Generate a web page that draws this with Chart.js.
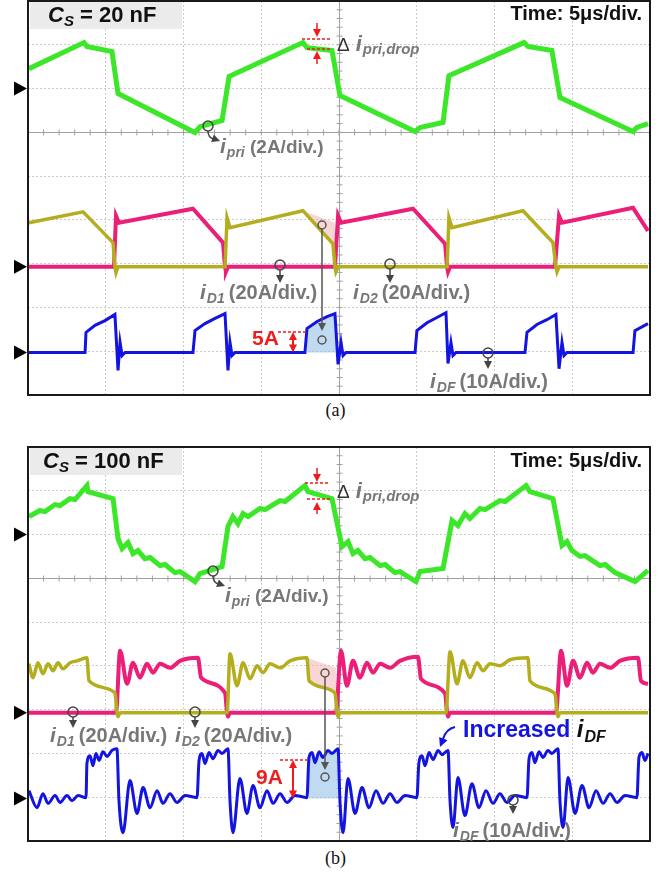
<!DOCTYPE html>
<html>
<head>
<meta charset="utf-8">
<script src="https://cdn.jsdelivr.net/npm/chart.js@4.4.0/dist/chart.umd.min.js"></script>
<style>
  body { margin: 0; background: #fff; width: 671px; height: 877px; position: relative; overflow: hidden; }
  canvas { position: absolute; left: 0; }
  .cap { position: absolute; left: 0; width: 671px; text-align: center; font-family: "Liberation Serif", "Times New Roman", serif; font-size: 18px; color: #111; }
</style>
</head>
<body>
<canvas id="scopeA" width="671" height="400" style="top:0"></canvas>
<div class="cap" style="top:400px">(a)</div>
<canvas id="scopeB" width="671" height="400" style="top:446px"></canvas>
<div class="cap" style="top:848px">(b)</div>
<script>
// scope screen: 8 horizontal div (5 us/div), 9 vertical div visible
const timeTicks = [0, 5, 10, 15, 20, 25, 30, 35, 40]
const vertDivs = [0, 1, 2, 3, 4, 5, 6, 7, 8, 9]

// probe scales (A/div) and channel zero levels (div from screen bottom)
const chScale = { pri: 2, d: 20, df: 10 }
const chZero = { pri: 7.0, d: 2.93, df: 0.97 }

// ---- (a) Cs = 20 nF : [time us, current A] ----
const priA = [[0.06,0.91],[3.60,2.10],[3.79,1.92],[5.40,1.69],[5.79,-0.23],[10.74,-2.01],[11.06,-1.74],[12.48,-1.46],[12.93,0.55],[17.68,2.10],[17.94,1.87],[19.55,1.74],[20.06,-0.32],[24.89,-1.96],[25.21,-1.78],[26.69,-1.55],[27.07,0.59],[31.90,2.10],[32.15,1.92],[33.69,1.74],[34.21,-0.41],[38.90,-1.96],[39.16,-1.78],[39.87,-1.60]]
const d1A = [[0.06,20.1],[3.54,25.1],[5.47,11.0],[5.59,0],[5.66,-2.7],[5.79,0],[12.67,0],[12.80,22.4],[12.99,17.8],[17.68,25.6],[19.61,10.5],[19.74,0],[19.80,-2.3],[19.94,0],[26.95,0],[27.07,22.4],[27.27,17.8],[31.83,25.6],[33.76,11.0],[33.95,0],[34.02,-2.3],[34.15,0],[39.87,0]]
const d2A = [[0.06,0],[5.53,0],[5.66,23.3],[5.85,20.1],[10.61,26.5],[12.54,11.0],[12.67,0],[12.73,-2.3],[12.86,0],[19.74,0],[19.94,23.3],[20.13,20.1],[24.76,26.5],[26.82,10.5],[26.95,0],[27.01,-2.3],[27.14,0],[33.89,0],[34.15,23.3],[34.34,20.1],[38.91,26.9],[39.87,16.4]]
const dfA = [[0.06,0],[3.67,0],[3.73,4.6],[4.31,6.2],[4.95,7.3],[5.59,8.7],[5.79,-4.1],[5.92,2.3],[6.05,-0.7],[6.24,0],[10.61,0],[10.74,5.0],[11.38,6.6],[12.03,7.8],[12.67,8.9],[12.86,-4.1],[12.99,2.3],[13.12,-0.7],[13.31,0],[17.81,0],[17.94,5.5],[18.59,7.1],[19.23,8.2],[19.74,8.9],[19.94,-2.7],[20.13,2.3],[20.26,-0.7],[20.45,0],[24.89,0],[25.01,5.0],[25.66,6.8],[26.30,8.0],[26.88,9.1],[27.01,-2.5],[27.20,2.3],[27.33,-0.7],[27.52,0],[31.96,0],[32.09,4.6],[32.73,6.4],[33.37,7.5],[33.95,8.7],[34.15,-3.7],[34.34,2.3],[34.47,-0.7],[34.66,0],[38.91,0],[39.03,5.0],[39.87,6.6]]
const dropTopA = [[17.68,25.6],[19.74,20.1]]
const dropBotA = [[17.68,25.6],[19.61,10.5],[19.74,10.0]]

// ---- (b) Cs = 100 nF ----
const priB = [[0.06,0.82],[0.77,1.10],[1.09,1.05],[1.74,1.37],[2.06,1.32],[2.70,1.64],[3.02,1.60],[3.79,2.24],[3.86,1.96],[5.47,1.64],[5.79,-0.18],[6.05,-0.64],[6.43,-0.37],[6.75,-0.87],[7.07,-0.73],[7.52,-1.10],[7.85,-1.05],[8.49,-1.42],[8.81,-1.37],[9.45,-1.74],[9.78,-1.69],[10.74,-2.15],[11.06,-1.78],[12.48,-1.46],[12.86,0.37],[13.18,0.82],[13.50,0.50],[13.83,0.96],[14.15,0.82],[14.92,1.19],[15.24,1.14],[16.21,1.55],[16.53,1.51],[17.81,2.24],[18.01,1.96],[19.55,1.64],[20.19,-0.55],[20.58,-0.32],[20.90,-0.87],[21.22,-0.73],[21.67,-1.10],[21.99,-1.05],[22.64,-1.42],[22.96,-1.37],[23.60,-1.74],[23.92,-1.69],[24.95,-2.15],[25.21,-1.69],[26.69,-1.55],[27.27,0.64],[27.65,0.41],[28.10,0.96],[28.42,0.73],[29.07,1.19],[29.39,1.14],[30.35,1.55],[30.68,1.51],[32.03,2.24],[32.28,1.96],[33.76,1.64],[34.34,-0.50],[34.66,-0.32],[34.98,-0.73],[35.50,-1.00],[35.82,-0.96],[36.78,-1.42],[37.11,-1.37],[37.75,-1.74],[39.04,-2.15],[39.87,-1.64]]
const d1B = [[0.06,22.4],[0.32,16.0],[0.64,22.8],[0.96,17.8],[1.29,22.4],[1.61,19.2],[1.93,22.8],[2.25,20.1],[2.70,22.8],[3.15,23.7],[3.79,25.1],[3.92,14.6],[5.59,9.1],[5.72,0],[5.79,-1.8],[5.92,0],[12.80,0],[12.99,26.9],[13.44,12.3],[13.83,22.8],[14.28,15.5],[14.73,21.5],[15.11,18.3],[15.56,22.4],[16.21,20.5],[16.85,23.7],[17.94,25.1],[18.07,14.6],[19.74,9.1],[19.87,0],[19.94,-1.8],[20.06,0],[26.88,0],[27.14,27.9],[27.59,13.2],[27.97,23.7],[28.42,16.0],[28.88,22.8],[29.26,19.2],[29.71,22.4],[30.35,21.5],[31.00,24.2],[32.15,25.1],[32.28,14.6],[33.89,8.7],[34.02,0],[34.08,-1.8],[34.21,0],[39.87,0]]
const d2B = [[0.06,0],[5.66,0],[5.92,28.3],[6.37,13.2],[6.75,22.8],[7.20,16.0],[7.65,22.4],[8.04,18.3],[8.49,22.4],[9.13,20.5],[9.78,23.7],[10.93,25.1],[11.13,16.0],[12.67,9.1],[12.80,0],[12.86,-1.8],[12.99,0],[19.80,0],[20.13,28.3],[20.51,12.3],[20.90,23.7],[21.35,16.0],[21.80,22.8],[22.19,18.3],[22.64,22.4],[23.28,20.5],[23.92,23.7],[25.08,25.6],[25.27,15.5],[26.82,8.7],[26.95,0],[27.01,-1.8],[27.14,0],[33.95,0],[34.28,28.3],[34.66,12.3],[35.05,23.7],[35.50,16.0],[35.95,22.8],[36.33,18.3],[36.78,22.4],[37.43,20.5],[38.07,23.7],[39.23,25.1],[39.42,14.6],[39.87,13.2]]
const dfB = [[0.06,1.8],[0.58,-2.1],[0.96,1.1],[1.29,-1.1],[1.74,0.7],[2.06,-0.9],[2.51,0.7],[2.83,-0.5],[3.22,0.7],[3.73,0.2],[3.79,8.0],[3.99,9.8],[4.18,7.5],[4.37,10.3],[4.57,8.7],[4.82,10.7],[5.08,9.6],[5.40,11.0],[5.72,11.4],[5.85,-0.5],[6.11,-7.8],[6.56,4.1],[7.01,-3.4],[7.40,2.5],[7.85,-2.1],[8.30,1.8],[8.68,-1.1],[9.13,1.1],[9.58,-0.9],[10.10,0.7],[10.87,0.2],[11.00,8.7],[11.19,10.3],[11.38,8.0],[11.64,10.5],[11.90,9.1],[12.22,11.0],[12.48,10.3],[12.86,11.4],[12.99,-0.5],[13.18,-7.8],[13.63,4.6],[14.08,-3.4],[14.47,3.0],[14.92,-2.1],[15.37,1.8],[15.76,-1.1],[16.21,1.1],[16.66,-0.9],[17.17,0.7],[17.94,0.2],[18.07,9.4],[18.27,10.5],[18.46,8.2],[18.72,10.7],[18.97,9.4],[19.29,11.0],[19.55,10.3],[19.94,11.4],[20.06,-0.5],[20.26,-7.8],[20.58,4.6],[21.03,-3.4],[21.48,2.5],[21.93,-2.1],[22.38,1.8],[22.83,-1.1],[23.28,1.1],[23.73,-0.9],[24.24,0.7],[25.01,0.2],[25.14,8.2],[25.34,9.8],[25.53,7.5],[25.79,10.5],[26.05,8.9],[26.37,11.0],[26.62,10.0],[27.01,11.0],[27.14,-0.5],[27.33,-6.6],[27.65,4.8],[28.10,-3.9],[28.55,3.4],[29.00,-2.1],[29.45,1.8],[29.90,-1.1],[30.35,1.1],[30.80,-0.9],[31.32,0.7],[32.09,0.2],[32.22,9.1],[32.41,10.5],[32.60,8.2],[32.86,10.7],[33.12,9.4],[33.44,11.0],[33.69,10.3],[34.08,11.4],[34.21,-0.5],[34.41,-6.6],[34.73,4.8],[35.18,-3.4],[35.63,3.0],[36.08,-2.1],[36.53,1.8],[36.98,-1.1],[37.43,1.1],[37.88,-0.9],[38.39,0.7],[39.16,0.2],[39.29,9.4],[39.48,10.5],[39.68,8.7],[39.87,10.3]]
const dropTopB = [[17.94,25.1],[19.80,20.5]]
const dropBotB = [[17.94,25.1],[18.07,14.6],[19.74,9.1],[19.80,9.1]]

const GREEN = "#3ce628", YELLOW = "#b4ae1e", PINK = "#eb1e78", BLUE = "#1414e0"
const PINK_SHADE = "rgba(240,165,165,0.45)", BLUE_SHADE = "rgba(150,195,232,0.6)"
const GRAY = "#777777", RED = "#ee1c1c", LINK = "#555555"
const F = '"Liberation Sans", Arial, sans-serif'

function toDiv(points, ch) {
  return points.map(([t, i]) => ({ x: t, y: chZero[ch] + i / chScale[ch] }))
}

function trace(points, ch, color, width, smooth) {
  const ds = { data: toDiv(points, ch), showLine: true, borderColor: color, borderWidth: width, pointRadius: 0, fill: false, order: 1 }
  if (smooth) ds.cubicInterpolationMode = "monotone"
  return ds
}

function shade(points, ch, fill, color) {
  return { data: toDiv(points, ch), showLine: true, borderColor: "rgba(0,0,0,0)", borderWidth: 1, pointRadius: 0, fill: fill, backgroundColor: color, order: 9 }
}

function arrowHead(ctx, x, y, ang, size, color) {
  ctx.save()
  ctx.translate(x, y)
  ctx.rotate(ang)
  ctx.beginPath()
  ctx.moveTo(0, 0)
  ctx.lineTo(-size, -size * 0.5)
  ctx.lineTo(-size, size * 0.5)
  ctx.closePath()
  ctx.fillStyle = color
  ctx.fill()
  ctx.restore()
}

function rich(ctx, x, y, parts, color) {
  let cx = x
  for (const p of parts) {
    ctx.font = p.font
    ctx.fillStyle = p.color || color
    ctx.fillText(p.text, cx, y + (p.dy || 0))
    cx += ctx.measureText(p.text).width + (p.gap || 0)
  }
}

function seg(ctx, x1, y1, x2, y2) {
  ctx.beginPath()
  ctx.moveTo(x1, y1)
  ctx.lineTo(x2, y2)
  ctx.stroke()
}

function drawNotes(ctx, L, T, n, dfZeroPx) {
  const X = (v) => L + v
  const Y = (v) => T + v
  ctx.textBaseline = "alphabetic"

  // Cs box
  ctx.fillStyle = "#ebebeb"
  ctx.fillRect(X(2), Y(1), 152, 27)
  rich(ctx, X(n.csX), Y(n.csY), [
    { text: "C", font: `italic bold 22px ${F}` },
    { text: "S", font: `italic bold 15px ${F}`, dy: 4 },
    { text: " = " + n.cs, font: `bold 22px ${F}` },
  ], "#111")

  ctx.textAlign = "right"
  ctx.font = `bold 20px ${F}`
  ctx.fillStyle = "#111"
  ctx.fillText("Time: 5\u03bcs/div.", X(614), Y(n.timeY))
  ctx.textAlign = "left"

  // delta i_pri,drop
  const d = n.drop
  rich(ctx, X(309), Y(d.dY), [
    { text: "\u0394", font: `19px ${F}`, color: "#333", gap: 6 },
    { text: "i", font: `italic bold 22px ${F}`, gap: 1 },
    { text: "pri,drop", font: `italic bold 15px ${F}`, dy: 3 },
  ], GRAY)
  ctx.strokeStyle = RED
  ctx.lineWidth = 1.5
  ctx.setLineDash([3, 2])
  seg(ctx, X(d.l1[0]), Y(d.l1[1]), X(d.lEnd), Y(d.l1[1]))
  seg(ctx, X(d.l2[0]), Y(d.l2[1]), X(d.lEnd), Y(d.l2[1]))
  ctx.setLineDash([])
  seg(ctx, X(d.ax), Y(d.down[0]), X(d.ax), Y(d.down[1] - 5))
  arrowHead(ctx, X(d.ax), Y(d.down[1]), Math.PI / 2, 8, RED)
  seg(ctx, X(d.ax), Y(d.up[0]), X(d.ax), Y(d.up[1] + 5))
  arrowHead(ctx, X(d.ax), Y(d.up[1]), -Math.PI / 2, 8, RED)

  // i_pri probe label
  const p = n.pri
  ctx.strokeStyle = "#444"
  ctx.lineWidth = 1.5
  ctx.beginPath()
  ctx.arc(X(p.cx), Y(p.cy), 5, 0, Math.PI * 2)
  ctx.stroke()
  ctx.beginPath()
  ctx.moveTo(X(p.cx), Y(p.cy + 5))
  ctx.quadraticCurveTo(X(p.cx), Y(p.cy + 12), X(p.cx + 6), Y(p.cy + 13))
  ctx.stroke()
  arrowHead(ctx, X(p.cx + 12), Y(p.cy + 15), 0.35, 8, "#444")
  rich(ctx, X(p.tx), Y(p.ty), [
    { text: "i", font: `italic bold 21px ${F}`, gap: 1 },
    { text: "pri", font: `italic bold 14px ${F}`, dy: 4 },
    { text: " (2A/div.)", font: `bold 19px ${F}` },
  ], GRAY)

  // diode current probe labels
  for (const q of n.probes) {
    ctx.strokeStyle = "#444"
    ctx.lineWidth = 1.5
    ctx.beginPath()
    ctx.arc(X(q.cx), Y(q.cy), 5, 0, Math.PI * 2)
    ctx.stroke()
    seg(ctx, X(q.cx), Y(q.cy + 5), X(q.cx), Y(q.tip - 6))
    arrowHead(ctx, X(q.cx), Y(q.tip), Math.PI / 2, 8, "#444")
    rich(ctx, X(q.tx), Y(q.ty), [
      { text: "i", font: `italic bold 21px ${F}`, gap: 1 },
      { text: q.sub, font: `italic bold 14px ${F}`, dy: 4, gap: 4 },
      { text: q.rest, font: `bold 20px ${F}` },
    ], GRAY)
  }

  // step size of i_DF
  const s = n.step
  ctx.font = `bold 21px ${F}`
  ctx.fillStyle = RED
  ctx.fillText(s.text, X(s.tx), Y(s.ty))
  ctx.strokeStyle = RED
  ctx.lineWidth = 1.5
  ctx.setLineDash([3, 2])
  seg(ctx, X(s.lx[0]), Y(s.ly), X(s.lx[1]), Y(s.ly))
  ctx.setLineDash([])
  ctx.lineWidth = 2
  seg(ctx, X(s.ax), Y(s.ly + 6), X(s.ax), dfZeroPx - 6)
  arrowHead(ctx, X(s.ax), Y(s.ly), -Math.PI / 2, 8, RED)
  arrowHead(ctx, X(s.ax), dfZeroPx, Math.PI / 2, 8, RED)

  // link from secondary shade to i_DF shade
  const k = n.link
  ctx.strokeStyle = LINK
  ctx.lineWidth = 1.5
  ctx.beginPath()
  ctx.arc(X(k.x), Y(k.y1), 4, 0, Math.PI * 2)
  ctx.stroke()
  ctx.beginPath()
  ctx.arc(X(k.x), Y(k.y2), 4, 0, Math.PI * 2)
  ctx.stroke()
  seg(ctx, X(k.x), Y(k.y1 + 4), X(k.x), Y(k.head - 5))
  arrowHead(ctx, X(k.x), Y(k.head), Math.PI / 2, 8, LINK)

  // increased i_DF note (b only)
  if (n.boost) {
    const b = n.boost
    rich(ctx, X(b.tx), Y(b.ty), [
      { text: "Increased ", font: `bold 23px ${F}`, color: BLUE },
      { text: "i", font: `italic bold 24px ${F}`, color: "#111", gap: 1 },
      { text: "DF", font: `italic bold 16px ${F}`, color: "#111", dy: 5 },
    ], BLUE)
    ctx.strokeStyle = BLUE
    ctx.lineWidth = 2
    ctx.beginPath()
    ctx.moveTo(X(b.tx - 8), Y(b.ty - 10))
    ctx.quadraticCurveTo(X(b.tx - 17), Y(b.ty - 8), X(b.tx - 20), Y(b.ty + 2))
    ctx.stroke()
    arrowHead(ctx, X(b.tx - 23), Y(b.ty + 10), 1.95, 9, BLUE)
  }
}

function scopePlugin(notes) {
  return {
    id: "scopeNotes",
    beforeDatasetsDraw(chart) {
      const { ctx, chartArea: ca, scales: { x, y } } = chart
      ctx.save()
      ctx.strokeStyle = "#a0a0a0"
      ctx.lineWidth = 1
      const cy = Math.round(y.getPixelForValue(6)) + 0.5
      const cx = Math.round(x.getPixelForValue(20)) + 0.5
      ctx.beginPath()
      ctx.moveTo(ca.left, cy)
      ctx.lineTo(ca.right, cy)
      ctx.moveTo(cx, ca.top)
      ctx.lineTo(cx, ca.bottom)
      for (let t = 1; t < 40; t++) {
        const px = x.getPixelForValue(t)
        ctx.moveTo(px, cy - 3)
        ctx.lineTo(px, cy + 3)
      }
      for (let v = 1; v < 45; v++) {
        const py = y.getPixelForValue(v / 5)
        ctx.moveTo(cx - 3, py)
        ctx.lineTo(cx + 3, py)
      }
      ctx.stroke()
      ctx.restore()
    },
    afterDraw(chart) {
      const { ctx, chartArea: ca, scales: { y } } = chart
      ctx.save()
      ctx.strokeStyle = "#1a1a1a"
      ctx.lineWidth = 2
      ctx.strokeRect(ca.left, ca.top, ca.right - ca.left, ca.bottom - ca.top)
      ctx.fillStyle = "#000"
      Object.values(chZero).forEach((z) => {
        const py = y.getPixelForValue(z)
        ctx.beginPath()
        ctx.moveTo(ca.left - 14, py - 7)
        ctx.lineTo(ca.left - 1, py)
        ctx.lineTo(ca.left - 14, py + 7)
        ctx.closePath()
        ctx.fill()
      })
      drawNotes(ctx, ca.left, ca.top, notes, y.getPixelForValue(chZero.df))
      ctx.restore()
    },
  }
}

function makeScope(id, datasets, notes) {
  const grid = { color: "#cccccc", lineWidth: 1, drawTicks: false }
  new Chart(document.getElementById(id), {
    type: "scatter",
    data: { datasets },
    options: {
      responsive: false,
      animation: false,
      devicePixelRatio: 1,
      layout: { padding: { left: 28, right: 21, top: 1, bottom: 5 } },
      plugins: { legend: { display: false }, tooltip: { enabled: false } },
      elements: { line: { tension: 0 }, point: { radius: 0 } },
      scales: {
        x: {
          type: "linear", min: timeTicks[0], max: timeTicks[timeTicks.length - 1],
          afterBuildTicks: (s) => { s.ticks = timeTicks.map((v) => ({ value: v })) },
          ticks: { display: false }, grid, border: { display: false, dash: [2, 2] },
          afterFit: (s) => { s.height = 0 },
        },
        y: {
          type: "linear", min: vertDivs[0], max: vertDivs[vertDivs.length - 1],
          afterBuildTicks: (s) => { s.ticks = vertDivs.map((v) => ({ value: v })) },
          ticks: { display: false }, grid, border: { display: false, dash: [2, 2] },
          afterFit: (s) => { s.width = 0 },
        },
      },
    },
    plugins: [scopePlugin(notes)],
  })
}

const notesA = {
  cs: "20 nF", csX: 20, csY: 21, timeY: 19,
  drop: { dY: 50, l1: [274, 38], l2: [279, 48], lEnd: 302, ax: 289, down: [22, 36], up: [63, 50] },
  pri: { cx: 180, cy: 125, tx: 192, ty: 152 },
  probes: [
    { sub: "D1", rest: "(20A/div.)", cx: 252, cy: 264, tip: 282, tx: 172, ty: 298 },
    { sub: "D2", rest: "(20A/div.)", cx: 362, cy: 263, tip: 282, tx: 325, ty: 298 },
    { sub: "DF", rest: "(10A/div.)", cx: 460, cy: 352, tip: 368, tx: 402, ty: 387 },
  ],
  step: { text: "5A", tx: 224, ty: 344, ly: 331, lx: [250, 279], ax: 265 },
  link: { x: 294, y1: 224, y2: 339, head: 330 },
  boost: null,
}

const notesB = {
  cs: "100 nF", csX: 15, csY: 21, timeY: 20,
  drop: { dY: 51, l1: [277, 36], l2: [279, 52], lEnd: 302, ax: 289, down: [21, 35], up: [67, 55] },
  pri: { cx: 185, cy: 124, tx: 197, ty: 155 },
  probes: [
    { sub: "D1", rest: "(20A/div.)", cx: 45, cy: 265, tip: 281, tx: 22, ty: 295 },
    { sub: "D2", rest: "(20A/div.)", cx: 167, cy: 265, tip: 281, tx: 147, ty: 295 },
    { sub: "DF", rest: "(10A/div.)", cx: 485, cy: 353, tip: 367, tx: 425, ty: 390 },
  ],
  step: { text: "9A", tx: 228, ty: 337, ly: 313, lx: [252, 280], ax: 265 },
  link: { x: 297, y1: 226, y2: 330, head: 323 },
  boost: { tx: 435, ty: 290 },
}

const dfShadeA = [[17.94, 0], ...dfA.filter((p) => p[0] >= 17.94 && p[0] <= 19.74), [19.80, 0]]
const dfShadeB = [[18.07, 0], ...dfB.filter((p) => p[0] >= 18.07 && p[0] <= 19.94), [19.98, 0]]

makeScope("scopeA", [
  trace(priA, "pri", GREEN, 5),
  trace(d1A, "d", YELLOW, 3.5),
  trace(d2A, "d", PINK, 4),
  trace(dfA, "df", BLUE, 3),
  shade(dropTopA, "d", "+1", PINK_SHADE),
  shade(dropBotA, "d", false, PINK_SHADE),
  shade(dfShadeA, "df", { value: chZero.df }, BLUE_SHADE),
], notesA)

makeScope("scopeB", [
  trace(priB, "pri", GREEN, 5),
  trace(d1B, "d", YELLOW, 3.5, true),
  trace(d2B, "d", PINK, 4, true),
  trace(dfB, "df", BLUE, 3, true),
  shade(dropTopB, "d", "+1", PINK_SHADE),
  shade(dropBotB, "d", false, PINK_SHADE),
  shade(dfShadeB, "df", { value: chZero.df }, BLUE_SHADE),
], notesB)
</script>
</body>
</html>
